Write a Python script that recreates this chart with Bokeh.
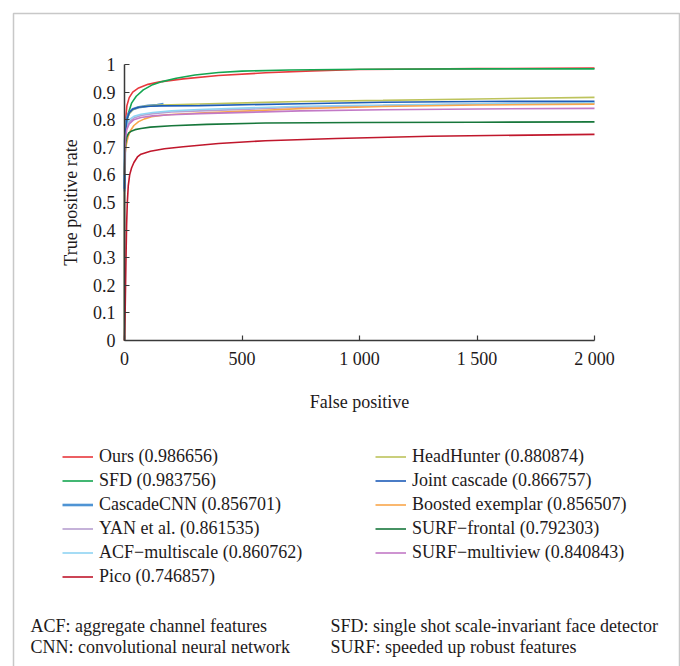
from bokeh.plotting import figure
from bokeh.models import Range1d, FixedTicker, Legend, LegendItem, Label, BoxAnnotation
from bokeh.embed import file_html
from bokeh.resources import INLINE

# ---------------- data ----------------
names = ["Ours (0.986656)", "SFD (0.983756)", "CascadeCNN (0.856701)", "YAN et al. (0.861535)",
         "ACF\u2212multiscale (0.860762)", "Pico (0.746857)",
         "HeadHunter (0.880874)", "Joint cascade (0.866757)", "Boosted exemplar (0.856507)",
         "SURF\u2212frontal (0.792303)", "SURF\u2212multiview (0.840843)"]
colors = ["#e8383d", "#14a651", "#4f94d4", "#b79fd0", "#8fd4f3", "#c0172c",
          "#bdc35c", "#1d5cb8", "#f9a74b", "#17773b", "#c279c6"]
widths = [1.6, 1.6, 2.6, 1.6, 1.6, 1.6, 1.6, 1.6, 1.6, 1.6, 1.6]

ours_fp = [0, 0, 2, 5, 10, 20, 35, 60, 100, 150, 250, 400, 600, 800, 1000, 1500, 2000]
ours_tpr = [0, 0.54, 0.72, 0.80, 0.85, 0.88, 0.90, 0.915, 0.928, 0.937, 0.948, 0.96, 0.97, 0.977, 0.982, 0.985, 0.987]

sfd_fp = [0, 0, 3, 8, 15, 30, 50, 80, 120, 160, 220, 300, 400, 500, 700, 1000, 1500, 2000]
sfd_tpr = [0, 0.62, 0.72, 0.78, 0.82, 0.86, 0.885, 0.908, 0.927, 0.938, 0.95, 0.962, 0.971, 0.976, 0.980, 0.983, 0.984, 0.984]

cascadecnn_fp = [0, 2, 5, 10, 20, 35, 60, 100, 140, 166]
cascadecnn_tpr = [0.55, 0.72, 0.78, 0.805, 0.825, 0.838, 0.845, 0.85, 0.853, 0.857]

yan_fp = [0, 2, 5, 10, 20, 40, 70, 120, 200, 320, 750, 1100, 1500, 2000]
yan_tpr = [0.6, 0.71, 0.75, 0.775, 0.792, 0.806, 0.815, 0.822, 0.828, 0.832, 0.845, 0.851, 0.857, 0.8615]

acf_fp = [0, 2, 5, 10, 20, 40, 70, 120, 200, 320, 750, 1100, 1500, 2000]
acf_tpr = [0.6, 0.72, 0.76, 0.785, 0.8, 0.812, 0.82, 0.826, 0.832, 0.837, 0.849, 0.853, 0.858, 0.861]

pico_fp = [0, 3, 6, 9, 12, 16, 22, 30, 40, 55, 70, 110, 170, 250, 400, 600, 900, 1300, 2000]
pico_tpr = [0, 0.12, 0.28, 0.42, 0.5, 0.56, 0.6, 0.625, 0.645, 0.665, 0.675, 0.686, 0.695, 0.702, 0.714, 0.724, 0.732, 0.740, 0.747]

headhunter_fp = [0, 2, 5, 10, 20, 35, 60, 100, 160, 320, 750, 1100, 1500, 2000]
headhunter_tpr = [0.6, 0.72, 0.77, 0.8, 0.822, 0.836, 0.845, 0.850, 0.853, 0.857, 0.866, 0.870, 0.875, 0.881]

joint_fp = [0, 2, 5, 10, 20, 35, 60, 100, 160, 320, 750, 1100, 1500, 2000]
joint_tpr = [0.54, 0.7, 0.76, 0.8, 0.825, 0.838, 0.845, 0.849, 0.850, 0.851, 0.858, 0.863, 0.866, 0.867]

boosted_fp = [0, 3, 8, 15, 25, 40, 60, 85, 115, 180, 320, 750, 1100, 1500, 2000]
boosted_tpr = [0.6, 0.68, 0.71, 0.737, 0.76, 0.779, 0.793, 0.803, 0.811, 0.818, 0.824, 0.840, 0.848, 0.853, 0.8565]

surf_frontal_fp = [0, 2, 5, 10, 18, 28, 45, 70, 110, 200, 350, 600, 1000, 1500, 2000]
surf_frontal_tpr = [0.6, 0.68, 0.715, 0.738, 0.752, 0.758, 0.764, 0.768, 0.773, 0.778, 0.783, 0.788, 0.790, 0.791, 0.792]

surf_multiview_fp = [0, 2, 5, 10, 20, 40, 70, 120, 200, 320, 750, 1100, 1500, 2000]
surf_multiview_tpr = [0.6, 0.7, 0.74, 0.765, 0.785, 0.8, 0.808, 0.814, 0.818, 0.822, 0.832, 0.836, 0.839, 0.841]

series_fp = [ours_fp, sfd_fp, cascadecnn_fp, yan_fp, acf_fp, pico_fp,
             headhunter_fp, joint_fp, boosted_fp, surf_frontal_fp, surf_multiview_fp]
series_tpr = [ours_tpr, sfd_tpr, cascadecnn_tpr, yan_tpr, acf_tpr, pico_tpr,
              headhunter_tpr, joint_tpr, boosted_tpr, surf_frontal_tpr, surf_multiview_tpr]

x_ticks = [0, 500, 1000, 1500, 2000]
x_tick_labels = ["0", "500", "1 000", "1 500", "2 000"]
y_ticks = [0, 0.1, 0.2, 0.3, 0.4, 0.5, 0.6, 0.7, 0.8, 0.9, 1.0]
y_tick_labels = ["0", "0.1", "0.2", "0.3", "0.4", "0.5", "0.6", "0.7", "0.8", "0.9", "1"]

x_title = "False positive"
y_title = "True positive rate"
notes_left = ["ACF: aggregate channel features", "CNN: convolutional neural network"]
notes_right = ["SFD: single shot scale-invariant face detector", "SURF: speeded up robust features"]

# ---------------- layout (pixels) ----------------
W, H = 680, 666
PX_X0, PX_X1 = 124, 594      # pixel of fp = 0 and fp = 2000
PX_Y0, PX_Y1 = 340, 64       # pixel of tpr = 0 and tpr = 1
kx = (PX_X1 - PX_X0) / (x_ticks[-1] - x_ticks[0])
ky = (PX_Y0 - PX_Y1) / (y_ticks[-1] - y_ticks[0])
xr0 = x_ticks[0] - PX_X0 / kx
xr1 = xr0 + W / kx
yr1 = y_ticks[0] + PX_Y0 / ky
yr0 = yr1 - H / ky

def dx(px):
    return xr0 + px / kx

def dy(py):
    return yr1 - py / ky

FONT = "'Liberation Serif', 'Times New Roman', serif"
TXT = "#1e1a1b"
AX = "#3a3a3a"

p = figure(width=W, height=H, x_range=Range1d(xr0, xr1), y_range=Range1d(yr0, yr1),
           output_backend="svg", toolbar_location=None,
           min_border=0, min_border_left=0, min_border_right=0, min_border_top=0, min_border_bottom=0)
p.outline_line_color = None
p.grid.visible = False
p.background_fill_color = "white"
p.border_fill_color = "white"

for ax in (p.xaxis[0], p.yaxis[0]):
    ax.axis_line_color = AX
    ax.axis_line_width = 1.5
    ax.major_tick_line_color = AX
    ax.major_tick_line_width = 1.2
    ax.major_tick_in = 5
    ax.major_tick_out = 0
    ax.minor_tick_line_color = None
    ax.major_label_text_font = FONT
    ax.major_label_text_font_size = "18px"
    ax.major_label_text_color = TXT
    ax.axis_label_text_font = FONT
    ax.axis_label_text_font_size = "18px"
    ax.axis_label_text_font_style = "normal"
    ax.axis_label_text_color = TXT

p.xaxis.fixed_location = 0
p.yaxis.fixed_location = 0
p.xaxis.bounds = (x_ticks[0], x_ticks[-1])
p.yaxis.bounds = (y_ticks[0], y_ticks[-1])
p.xaxis.ticker = FixedTicker(ticks=x_ticks)
p.xaxis.major_label_overrides = dict(zip(x_ticks, x_tick_labels))
p.yaxis.ticker = FixedTicker(ticks=y_ticks)
p.yaxis.major_label_overrides = dict(zip(y_ticks, y_tick_labels))
p.xaxis.axis_label = x_title
p.yaxis.axis_label = y_title
p.xaxis.major_label_standoff = 8
p.yaxis.major_label_standoff = 9
p.xaxis.axis_label_standoff = 20
p.yaxis.axis_label_standoff = 9

renderers = []
for fp, tpr, c, w in zip(series_fp, series_tpr, colors, widths):
    r = p.line(fp, tpr, line_color=c, line_width=w)
    renderers.append(r)

ITEM_H, GAP = 21, 3

def make_legend(idx, left_px, top_px):
    n = len(list(idx))
    hgt = n * ITEM_H + (n - 1) * GAP
    lg = Legend(items=[LegendItem(label=names[i], renderers=[renderers[i]]) for i in idx],
                location=(left_px, H - (top_px + hgt)), orientation="vertical")
    lg.label_text_font = FONT
    lg.label_text_font_size = "18px"
    lg.label_text_color = TXT
    lg.glyph_width = 31
    lg.glyph_height = ITEM_H
    lg.label_height = ITEM_H
    lg.label_standoff = 6
    lg.spacing = GAP
    lg.padding = 0
    lg.margin = 0
    lg.border_line_color = None
    lg.background_fill_alpha = 0
    return lg

p.add_layout(make_legend(range(0, 6), 62, 446), "center")
p.add_layout(make_legend(range(6, 11), 375, 446), "center")

for i, t in enumerate(notes_left):
    p.add_layout(Label(x=dx(30), y=dy(625 + 21 * i), text=t,
                       text_font=FONT, text_font_size="18px", text_color=TXT,
                       text_baseline="middle"))
for i, t in enumerate(notes_right):
    p.add_layout(Label(x=dx(330), y=dy(625 + 21 * i), text=t,
                       text_font=FONT, text_font_size="18px", text_color=TXT,
                       text_baseline="middle"))

p.add_layout(BoxAnnotation(left=dx(13), right=dx(679), top=dy(13), bottom=dy(720),
                           fill_color=None, fill_alpha=0, line_color="#4a4a4a", line_width=1.5))

open("out.html", "w").write(file_html(p, INLINE))
